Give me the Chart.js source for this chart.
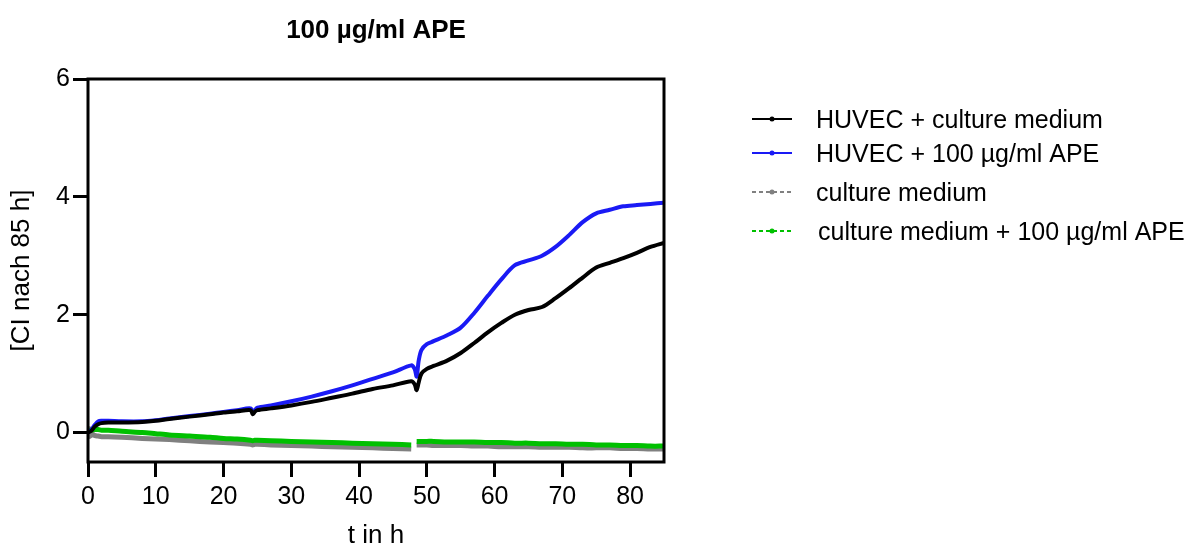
<!DOCTYPE html>
<html>
<head>
<meta charset="utf-8">
<script src="https://cdn.jsdelivr.net/npm/chart.js@4.4.1/dist/chart.umd.min.js"></script>
<style>
  html, body { margin: 0; padding: 0; background: #fff; }
  #wrap { width: 1194px; height: 555px; }
</style>
</head>
<body>
<div id="wrap"><canvas id="ciChart" width="1194" height="555"></canvas></div>
<script>
// time points (h)
const hours = [0, 0.5, 1, 1.5, 2, 3, 5, 8, 10, 12, 15, 18, 20, 22, 24, 24.3, 24.6, 25, 27, 30,
  33, 36, 39, 42, 45, 47.7, 48.2, 48.5, 48.8, 49.2, 50, 51, 53, 55, 57, 59, 61, 63, 65, 67,
  69, 71, 73, 75, 77, 79, 81, 83, 85];

const huvecMedium = [0, 0.03, 0.10, 0.14, 0.16, 0.17, 0.17, 0.18, 0.20, 0.23,
  0.27, 0.31, 0.34, 0.36, 0.38, 0.31, 0.35, 0.38, 0.41, 0.46,
  0.52, 0.59, 0.66, 0.74, 0.80, 0.87, 0.82, 0.72, 0.85, 1.00,
  1.08, 1.13, 1.22, 1.35, 1.52, 1.70, 1.86, 2.00, 2.08, 2.13,
  2.28, 2.45, 2.63, 2.80, 2.88, 2.96, 3.05, 3.15, 3.22];

const huvecApe = [0, 0.05, 0.13, 0.19, 0.20, 0.20, 0.19, 0.19, 0.21, 0.24,
  0.28, 0.32, 0.35, 0.38, 0.41, 0.34, 0.38, 0.42, 0.46, 0.53,
  0.61, 0.70, 0.80, 0.91, 1.02, 1.14, 1.08, 0.95, 1.22, 1.40,
  1.50, 1.55, 1.65, 1.78, 2.03, 2.32, 2.60, 2.84, 2.92, 3.00,
  3.15, 3.35, 3.57, 3.72, 3.78, 3.84, 3.86, 3.88, 3.90];

const mediumOnly = [0.00, -0.03, -0.05, -0.06, -0.07, -0.07, -0.08, -0.10, -0.11, -0.12,
  -0.14, -0.16, -0.17, -0.18, -0.20, -0.21, -0.20, -0.20, -0.21, -0.22,
  -0.23, -0.24, -0.25, -0.26, -0.27, -0.28, null, -0.21, -0.21, -0.21,
  -0.21, -0.22, -0.22, -0.22, -0.23, -0.23, -0.24, -0.24, -0.24, -0.25,
  -0.25, -0.25, -0.26, -0.26, -0.26, -0.27, -0.27, -0.28, -0.28];

const mediumApe = [0.02, 0.04, 0.05, 0.05, 0.04, 0.04, 0.02, 0.00, -0.02, -0.04,
  -0.06, -0.08, -0.10, -0.11, -0.13, -0.14, -0.13, -0.13, -0.14, -0.15,
  -0.16, -0.17, -0.18, -0.19, -0.20, -0.21, null, -0.15, -0.15, -0.15,
  -0.15, -0.15, -0.16, -0.16, -0.16, -0.17, -0.17, -0.18, -0.18, -0.19,
  -0.19, -0.20, -0.20, -0.21, -0.21, -0.22, -0.22, -0.23, -0.23];

const seriesNames = ["HUVEC + culture medium", "HUVEC + 100 µg/ml APE",
  "culture medium", "culture medium + 100 µg/ml APE"];
const xTicks = [0, 10, 20, 30, 40, 50, 60, 70, 80];
const yTicks = [0, 2, 4, 6];

const FONT = "'Liberation Sans', Arial, sans-serif";

function toPoints(values) {
  return hours.map((t, i) => ({ x: t, y: values[i] }));
}

// frame, title and legend
const decorations = {
  id: "decorations",
  afterDraw(chart) {
    const { ctx, chartArea: a } = chart;
    ctx.save();
    ctx.strokeStyle = "#000";
    ctx.lineWidth = 3;
    ctx.strokeRect(a.left, a.top, a.right - a.left, a.bottom - a.top);

    ctx.fillStyle = "#000";
    ctx.font = "bold 26px " + FONT;
    ctx.textAlign = "center";
    ctx.textBaseline = "middle";
    ctx.fillText("100 µg/ml APE", (a.left + a.right) / 2, 31);

    const rows = [119, 153, 192, 231];
    const textX = [816, 816, 816, 818];
    chart.data.datasets.forEach((ds, i) => {
      const y = rows[i];
      ctx.strokeStyle = ds.borderColor;
      ctx.lineWidth = 2;
      ctx.setLineDash(i >= 2 ? [4, 3] : []);
      ctx.beginPath();
      ctx.moveTo(752, y);
      ctx.lineTo(792, y);
      ctx.stroke();
      ctx.setLineDash([]);
      ctx.fillStyle = ds.borderColor;
      ctx.beginPath();
      ctx.arc(772, y, 2.5, 0, Math.PI * 2);
      ctx.fill();
      ctx.fillStyle = "#000";
      ctx.font = "25px " + FONT;
      ctx.textAlign = "left";
      ctx.fillText(seriesNames[i], textX[i], y + 2);
    });
    ctx.restore();
  }
};

new Chart(document.getElementById("ciChart"), {
  type: "line",
  data: {
    datasets: [
      { label: seriesNames[0], data: toPoints(huvecMedium), borderColor: "#000000", borderWidth: 4, order: 0 },
      { label: seriesNames[1], data: toPoints(huvecApe), borderColor: "#1a1af5", borderWidth: 4, order: 1 },
      { label: seriesNames[2], data: toPoints(mediumOnly), borderColor: "#808080", borderWidth: 5, order: 3,
        pointRadius: c => (c.dataIndex === 0 ? 4 : 0), pointBackgroundColor: "#808080" },
      { label: seriesNames[3], data: toPoints(mediumApe), borderColor: "#00c000", borderWidth: 5, order: 2 }
    ]
  },
  options: {
    responsive: false,
    animation: false,
    spanGaps: false,
    elements: { point: { radius: 0 }, line: { tension: 0.3, borderCapStyle: "butt" } },
    layout: { padding: { left: 0, top: 79, right: 530, bottom: 0 } },
    plugins: { legend: { display: false }, tooltip: { enabled: false } },
    scales: {
      x: {
        type: "linear",
        min: 0,
        max: 85,
        afterBuildTicks: s => { s.ticks = xTicks.map(v => ({ value: v })); },
        afterFit: s => { s.height = 93; },
        border: { display: false },
        grid: { drawOnChartArea: false, drawTicks: true, tickLength: 15, tickWidth: 3, tickColor: "#000" },
        ticks: { color: "#000", font: { family: FONT, size: 25 }, padding: 5, maxRotation: 0, autoSkip: false },
        title: { display: true, text: "t in h", color: "#000", font: { family: FONT, size: 26 }, padding: { top: 0, bottom: 4 } }
      },
      y: {
        min: -0.5,
        max: 6,
        afterBuildTicks: s => { s.ticks = yTicks.map(v => ({ value: v })); },
        afterFit: s => { s.width = 88; },
        border: { display: false },
        grid: { drawOnChartArea: false, drawTicks: true, tickLength: 15, tickWidth: 3, tickColor: "#000" },
        ticks: { color: "#000", font: { family: FONT, size: 25 }, padding: 3 },
        title: { display: true, text: "[CI nach 85 h]", color: "#000", font: { family: FONT, size: 26 }, padding: { top: 6, bottom: 0 } }
      }
    }
  },
  plugins: [decorations]
});
</script>
</body>
</html>
